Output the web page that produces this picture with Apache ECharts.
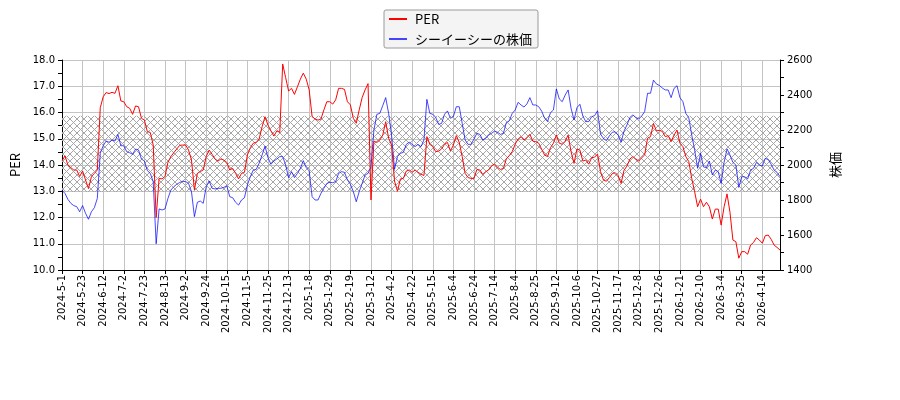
<!DOCTYPE html>
<html>
<head>
<meta charset="utf-8">
<script src="https://cdn.jsdelivr.net/npm/echarts@6/dist/echarts.min.js"></script>
<style>
  html, body { margin: 0; padding: 0; background: #fff; }
  #chart { width: 900px; height: 400px; }
</style>
</head>
<body>
<div id="chart"></div>
<script>
// tick labels, one every 7 samples (a sample every 2 trading days)
var tickLabels = [
    '2024-5-1', '2024-5-23', '2024-6-12', '2024-7-2', '2024-7-23', '2024-8-13', '2024-9-2',
    '2024-9-24', '2024-10-15', '2024-11-5', '2024-11-25', '2024-12-13', '2025-1-8', '2025-1-29',
    '2025-2-19', '2025-3-12', '2025-4-2', '2025-4-22', '2025-5-15', '2025-6-4', '2025-6-24',
    '2025-7-14', '2025-8-4', '2025-8-25', '2025-9-12', '2025-10-6', '2025-10-27', '2025-11-17',
    '2025-12-8', '2025-12-26', '2026-1-21', '2026-2-10', '2026-3-4', '2026-3-25', '2026-4-14'
];
var labelEvery = 7;

// PER (left axis)
var perValues = [
    14.15, 14.35, 14.0, 13.9, 13.81, 13.81, 13.56, 13.77, 13.43, 13.1,
    13.56, 13.68, 13.81, 16.18, 16.6, 16.76, 16.72, 16.77, 16.73, 17.02,
    16.44, 16.41, 16.22, 16.16, 15.93, 16.25, 16.22, 15.78, 15.71, 15.27,
    15.24, 14.76, 12.0, 13.49, 13.47, 13.56, 14.1, 14.32, 14.47, 14.61,
    14.75, 14.76, 14.76, 14.57, 14.19, 13.05, 13.68, 13.75, 13.81, 14.32,
    14.57, 14.41, 14.23, 14.15, 14.23, 14.19, 14.1, 13.81, 13.87, 13.68,
    13.47, 13.68, 13.72, 14.38, 14.66, 14.83, 14.86, 14.99, 15.46, 15.84,
    15.52, 15.3, 15.1, 15.3, 15.24, 17.85, 17.33, 16.82, 16.92, 16.69,
    16.98, 17.27, 17.5, 17.27, 16.86, 15.84, 15.75, 15.71, 15.75, 16.1,
    16.41, 16.41, 16.32, 16.48, 16.92, 16.92, 16.88, 16.41, 16.29, 15.78,
    15.59, 16.1, 16.57, 16.86, 17.1, 12.67, 14.91, 14.86, 14.95, 15.14,
    15.65, 15.02, 14.76, 13.39, 13.0, 13.47, 13.49, 13.77, 13.81, 13.72,
    13.81, 13.72, 13.65, 13.6, 15.08, 14.79, 14.7, 14.51, 14.53, 14.61,
    14.79, 14.86, 14.53, 14.76, 15.12, 14.86, 14.32, 13.68, 13.52, 13.49,
    13.49, 13.83, 13.81, 13.64, 13.75, 13.81, 13.97, 14.04, 13.91, 13.83,
    13.87, 14.23, 14.36, 14.51, 14.79, 14.99, 15.08, 14.95, 15.04, 15.17,
    14.91, 14.89, 14.83, 14.6, 14.38, 14.32, 14.66, 14.83, 15.14, 14.83,
    14.79, 14.91, 15.14, 14.51, 14.06, 14.61, 14.57, 14.15, 14.19, 14.03,
    14.28, 14.3, 14.42, 13.75, 13.43, 13.38, 13.52, 13.67, 13.71, 13.59,
    13.3, 13.8, 13.96, 14.23, 14.32, 14.23, 14.15, 14.28, 14.38, 15.02,
    15.08, 15.58, 15.3, 15.32, 15.28, 15.08, 15.12, 14.89, 15.14, 15.33,
    14.83, 14.7, 14.32, 14.13, 13.49, 12.98, 12.41, 12.7, 12.41, 12.58,
    12.41, 11.94, 12.32, 12.32, 11.71, 12.41, 12.9, 12.2, 11.14, 11.08,
    10.45, 10.7, 10.7, 10.6, 10.95, 11.05, 11.23, 11.14, 11.02, 11.31,
    11.33, 11.17, 10.95, 10.86, 10.76
];

// share price (right axis)
var priceValues = [
    1855, 1838, 1804, 1781, 1768, 1762, 1733, 1768, 1724, 1690,
    1733, 1756, 1809, 2067, 2110, 2137, 2130, 2143, 2137, 2175,
    2110, 2110, 2076, 2070, 2061, 2091, 2086, 2034, 2023, 1968,
    1952, 1905, 1550, 1749, 1743, 1749, 1809, 1857, 1876, 1890,
    1900, 1907, 1905, 1895, 1848, 1705, 1787, 1794, 1781, 1876,
    1909, 1867, 1863, 1867, 1867, 1872, 1882, 1819, 1813, 1787,
    1771, 1800, 1813, 1886, 1933, 1971, 1975, 2010, 2057, 2108,
    2042, 2004, 2023, 2034, 2048, 2048, 2000, 1928, 1962, 1928,
    1952, 1980, 2025, 1985, 1966, 1819, 1800, 1800, 1838, 1867,
    1895, 1901, 1899, 1905, 1952, 1962, 1958, 1914, 1890, 1848,
    1790, 1848, 1895, 1943, 1952, 1990, 2200, 2290, 2295, 2339,
    2385, 2295, 2171, 1975, 2048, 2067, 2072, 2118, 2130, 2118,
    2105, 2118, 2105, 2143, 2375, 2295, 2290, 2272, 2232, 2238,
    2290, 2309, 2267, 2276, 2333, 2333, 2238, 2143, 2118, 2118,
    2148, 2181, 2175, 2143, 2152, 2171, 2181, 2194, 2187, 2175,
    2181, 2242, 2253, 2295, 2314, 2358, 2343, 2331, 2349, 2385,
    2343, 2343, 2333, 2308, 2268, 2248, 2299, 2314, 2435, 2377,
    2362, 2400, 2429, 2324, 2257, 2328, 2347, 2280, 2248, 2248,
    2276, 2282, 2310, 2177, 2152, 2139, 2166, 2187, 2190, 2171,
    2130, 2194, 2229, 2272, 2286, 2272, 2263, 2280, 2305, 2410,
    2410, 2485, 2463, 2455, 2440, 2429, 2429, 2385, 2438, 2453,
    2385, 2362, 2295, 2270, 2171, 2086, 1981, 2067, 1989, 1985,
    2023, 1943, 1971, 1962, 1895, 2015, 2092, 2057, 2015, 2000,
    1872, 1933, 1933, 1920, 1971, 1981, 2015, 2000, 1994, 2038,
    2031, 2004, 1971, 1958, 1933
];

// hatched PER band
var perBand = [12.97, 15.88];

var categories = [];
for (var i = 0; i < perValues.length; i++) categories.push(String(i));

// cross hatch pattern for the band
var hatch = document.createElement('canvas');
hatch.width = 7;
hatch.height = 7;
var ctx = hatch.getContext('2d');
ctx.strokeStyle = '#a6a6a6';
ctx.lineWidth = 1;
ctx.beginPath();
ctx.moveTo(0, 0); ctx.lineTo(7, 7);
ctx.moveTo(0, 7); ctx.lineTo(7, 0);
ctx.stroke();

var chart = echarts.init(document.getElementById('chart'));
var cjk = '"Noto Sans CJK JP", "DejaVu Sans", sans-serif';
var gridColor = '#c4c4c4';

var option = {
    animation: false,
    textStyle: { fontFamily: '"DejaVu Sans", sans-serif' },
    legend: {
        orient: 'vertical',
        left: 384,
        top: 10,
        padding: [2, 6, 2, 5],
        itemGap: 6,
        itemWidth: 18,
        itemHeight: 2,
        icon: 'rect',
        backgroundColor: '#f4f4f4',
        borderColor: '#9a9a9a',
        borderWidth: 1,
        borderRadius: 2,
        textStyle: { fontFamily: cjk, fontSize: 13, color: '#000', lineHeight: 14, padding: [0, 0, 0, 3] },
        data: ['PER', 'シーイーシーの株価']
    },
    grid: { left: 62, right: 120, top: 60, bottom: 130 },
    xAxis: {
        type: 'category',
        data: categories,
        boundaryGap: false,
        axisLine: { lineStyle: { color: '#000', width: 1 } },
        axisTick: { interval: labelEvery - 1, length: 4, lineStyle: { color: '#000' } },
        axisLabel: {
            interval: labelEvery - 1,
            rotate: 90,
            margin: 5,
            fontSize: 10,
            color: '#000',
            formatter: function (value, index) {
                return index % labelEvery === 0 ? tickLabels[index / labelEvery] : '';
            }
        },
        splitLine: { show: true, interval: labelEvery - 1, lineStyle: { color: gridColor, width: 1 } }
    },
    yAxis: [
        {
            type: 'value',
            min: 10,
            max: 18,
            interval: 1,
            name: 'PER',
            nameLocation: 'middle',
            nameRotate: 90,
            nameGap: 33,
            nameTextStyle: { fontFamily: cjk, fontSize: 13, color: '#000' },
            axisLine: { show: true, lineStyle: { color: '#000' } },
            axisTick: { show: true, length: 4, lineStyle: { color: '#000' } },
            minorTick: { show: true, splitNumber: 2, length: 4, lineStyle: { color: '#000' } },
            axisLabel: {
                fontSize: 10, color: '#000', margin: 7,
                formatter: function (v) { return v.toFixed(1); }
            },
            splitLine: { show: true, lineStyle: { color: gridColor, width: 1 } }
        },
        {
            type: 'value',
            position: 'right',
            min: 1400,
            max: 2600,
            interval: 200,
            name: '株価',
            nameLocation: 'middle',
            nameRotate: 90,
            nameGap: 49,
            nameTextStyle: { fontFamily: cjk, fontSize: 13, color: '#000' },
            axisLine: { show: true, lineStyle: { color: '#000' } },
            axisTick: { show: true, length: 4, lineStyle: { color: '#000' } },
            minorTick: { show: true, splitNumber: 2, length: 4, lineStyle: { color: '#000' } },
            axisLabel: {
                fontSize: 10, color: '#000', margin: 7,
                formatter: function (v) { return String(v); }
            },
            splitLine: { show: false }
        }
    ],
    series: [
        {
            name: 'PER',
            type: 'line',
            yAxisIndex: 0,
            data: perValues,
            symbol: 'none',
            color: '#ff0000',
            lineStyle: { color: '#ff0000', width: 1 },
            markArea: {
                silent: true,
                itemStyle: { color: { image: hatch, repeat: 'repeat' } },
                data: [[{ yAxis: perBand[0] }, { yAxis: perBand[1] }]]
            },
            z: 3
        },
        {
            name: 'シーイーシーの株価',
            type: 'line',
            yAxisIndex: 1,
            data: priceValues,
            symbol: 'none',
            color: 'rgba(0,0,255,0.72)',
            lineStyle: { color: 'rgba(0,0,255,0.72)', width: 1 },
            z: 2
        }
    ]
};

chart.setOption(option);
</script>
</body>
</html>
